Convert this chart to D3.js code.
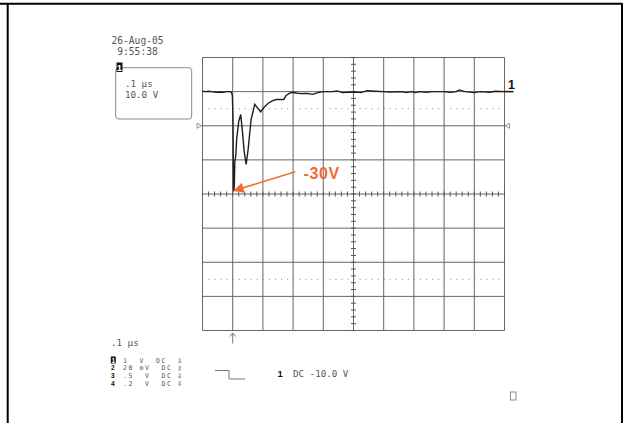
<!DOCTYPE html>
<html>
<head>
<meta charset="utf-8">
<script src="https://cdn.jsdelivr.net/npm/d3@7"></script>
<style>
  body { margin: 0; background: #fff; }
  .mono { font-family: "DejaVu Sans Mono", "Liberation Mono", monospace; fill: #555; }
  .chan { font-family: "Liberation Sans", Arial, sans-serif; font-weight: bold; fill: #111; }
</style>
</head>
<body>
<script>
const w = 623;
const h = 423;

// time in ns after trigger, channel 1 volts
const timeNs = [-100, -90, -80, -70, -60, -50, -40, -30, -20, -10, -4, -1, 1, 2.5, 4, 5.5, 7, 9, 10.5, 13,
  20, 26.5, 31.5, 38, 44.5, 51, 61, 73, 81, 92.5, 104, 117.5, 131, 144, 169, 177, 187, 197,
  210, 225, 245, 265, 282, 300, 330, 347, 363, 385, 405, 425, 445, 460, 500, 520, 560, 575,
  590, 605, 620, 640, 660, 700, 720, 740, 750, 770, 800, 820, 850, 870, 900];
const volts = [0.1, 0.0, 0.1, 0.0, -0.1, -0.2, -0.1, -0.2, 0.0, 0.0, -0.2, -1.2, -8, -28.8, -29.2, -27, -20.5, -19.5, -18.5, -14,
  -8.7, -6.7, -11, -17.5, -21.3, -17, -8.1, -3.7, -4.6, -5.9, -4.6, -3.4, -2.7, -2.3, -2.3, -1.1, -0.5, -0.2,
  -0.4, -0.6, -0.5, -0.8, -0.3, 0.0, 0.0, 0.2, -0.3, -0.2, -0.1, -0.3, 0.3, 0.2, 0.0, -0.1, 0.0, -0.3,
  0.0, -0.3, 0.0, -0.2, 0.0, 0.0, -0.2, 0.0, 0.5, 0.0, -0.3, 0.0, -0.2, 0.1, 0.0];

// graticule: 10 x 100 ns, 8 x 10 V
const timeDivs = [-100, 0, 100, 200, 300, 400, 500, 600, 700, 800, 900];
const voltDivs = [-70, -60, -50, -40, -30, -20, -10, 0, 10];
const dottedLevels = [-5, -55];
const centerTime = 400;
const centerVolt = -30;

// annotation
const peakLabel = "-30V";
const arrowFrom = [207, -23.5];
const arrowTo = [5, -29];

const legendRows = [
  {ch: "1", txt: "1  V  DC"},
  {ch: "2", txt: "20 mV  DC"},
  {ch: "3", txt: ".5  V  DC"},
  {ch: "4", txt: ".2  V  DC"}
];

const x = d3.scaleLinear().domain([-100, 900]).range([202.5, 504.5]);
const y = d3.scaleLinear().domain([-70, 10]).range([330.5, 57.5]);

const svg = d3.select("body").append("svg")
  .attr("width", w)
  .attr("height", h);

svg.append("defs").append("marker")
  .attr("id", "head")
  .attr("viewBox", "0 0 10 10")
  .attr("refX", 9).attr("refY", 5)
  .attr("markerWidth", 7.5).attr("markerHeight", 7)
  .attr("markerUnits", "strokeWidth")
  .attr("orient", "auto")
  .append("path")
  .attr("d", "M0,0 L10,5 L0,10 z")
  .attr("fill", "#f26a36");

// frame
svg.append("path")
  .attr("d", "M0,3.8 H622 M7.7,3 V423 M622,3 V423")
  .attr("stroke", "#000")
  .attr("stroke-width", 2)
  .attr("fill", "none");

// grid
const grid = svg.append("g").attr("stroke", "#666").attr("stroke-width", 1);
grid.selectAll(".vl").data(timeDivs).enter().append("line")
  .attr("x1", d => x(d)).attr("x2", d => x(d))
  .attr("y1", y(10)).attr("y2", y(-70));
grid.selectAll(".hl").data(voltDivs).enter().append("line")
  .attr("y1", d => y(d)).attr("y2", d => y(d))
  .attr("x1", x(-100)).attr("x2", x(900));

svg.selectAll(".dot").data(dottedLevels).enter().append("line")
  .attr("x1", x(-100) + 6).attr("x2", x(900) - 3)
  .attr("y1", d => y(d)).attr("y2", d => y(d))
  .attr("stroke", "#9a9a9a")
  .attr("stroke-dasharray", "1.2,4.84");

// minor ticks on center lines
const tMinor = d3.range(-100, 901, 20);
const vMinor = d3.range(-70, 11, 2);
svg.append("g").selectAll("line").data(tMinor).enter().append("line")
  .attr("x1", d => x(d)).attr("x2", d => x(d))
  .attr("y1", y(centerVolt) - 2.5).attr("y2", y(centerVolt) + 2.5)
  .attr("stroke", "#555");
svg.append("g").selectAll("line").data(vMinor).enter().append("line")
  .attr("y1", d => y(d)).attr("y2", d => y(d))
  .attr("x1", x(centerTime) - 2.5).attr("x2", x(centerTime) + 2.5)
  .attr("stroke", "#555");

// trace
const pts = timeNs.map((t, i) => [t, volts[i]]);
svg.append("path")
  .datum(pts)
  .attr("d", d3.line().x(d => x(d[0])).y(d => y(d[1])))
  .attr("fill", "none")
  .attr("stroke", "#1e1e1e")
  .attr("stroke-width", 1.4);

// channel 1 ground marker
svg.append("line")
  .attr("x1", x(900)).attr("x2", x(900) + 9)
  .attr("y1", y(0)).attr("y2", y(0))
  .attr("stroke", "#111").attr("stroke-width", 1.5);
svg.append("text").attr("class", "chan")
  .attr("x", x(900) + 3.5).attr("y", y(0) - 2.5)
  .attr("font-size", 12.5)
  .text("1");

// offset markers
const yo = y(-10);
svg.append("path")
  .attr("d", `M197,${yo - 2.5} L201.5,${yo} L197,${yo + 2.5} Z M509.5,${yo - 2.5} L505,${yo} L509.5,${yo + 2.5} Z`)
  .attr("fill", "#fff").attr("stroke", "#777").attr("stroke-width", 0.8);

// trigger marker
const xt = x(0);
svg.append("path")
  .attr("d", `M${xt},333 V343.5 M${xt - 3},336.5 L${xt},333 L${xt + 3},336.5`)
  .attr("fill", "none").attr("stroke", "#777").attr("stroke-width", 1);

// annotation arrow
svg.append("line")
  .attr("x1", x(arrowFrom[0])).attr("y1", y(arrowFrom[1]))
  .attr("x2", x(arrowTo[0])).attr("y2", y(arrowTo[1]))
  .attr("stroke", "#f26a36").attr("stroke-width", 1.5)
  .attr("marker-end", "url(#head)");
svg.append("text")
  .attr("x", 303.5).attr("y", 178.5)
  .attr("font-family", "Liberation Sans, Arial, sans-serif")
  .attr("font-weight", "bold")
  .attr("font-size", 16)
  .attr("letter-spacing", 0.6)
  .attr("fill", "#f26a36")
  .text(peakLabel);

// header
svg.append("text").attr("class", "mono").attr("font-size", 9.6)
  .attr("x", 111.5).attr("y", 43.5).text("26-Aug-05");
svg.append("text").attr("class", "mono").attr("font-size", 9.6)
  .attr("x", 111.5).attr("y", 54.5).attr("xml:space", "preserve").text(" 9:55:38");

// settings box
svg.append("rect")
  .attr("x", 115.7).attr("y", 67.7).attr("width", 76).attr("height", 51.3)
  .attr("rx", 3).attr("fill", "none").attr("stroke", "#888");
svg.append("rect").attr("x", 116.5).attr("y", 62.5).attr("width", 6).attr("height", 9.5).attr("fill", "#111");
svg.append("text").attr("class", "chan").attr("font-size", 9.5)
  .attr("x", 119.5).attr("y", 71).attr("text-anchor", "middle").style("fill", "#fff").text("1");
svg.append("text").attr("class", "mono").attr("font-size", 9.2)
  .attr("x", 125).attr("y", 86.5).text(".1 µs");
svg.append("text").attr("class", "mono").attr("font-size", 9.2)
  .attr("x", 125).attr("y", 97.5).text("10.0 V");

// bottom legend
svg.append("text").attr("class", "mono").attr("font-size", 9.2)
  .attr("x", 111).attr("y", 346).text(".1 µs");

// channel rows, kept small so the tight row pitch does not collide
const rowY = [362.8, 370.4, 378.0, 385.6];
svg.append("rect").attr("x", 110.8).attr("y", rowY[0] - 6.3).attr("width", 5).attr("height", 7).attr("fill", "#111");
legendRows.forEach((r, i) => {
  svg.append("text").attr("class", "chan")
    .attr("x", i === 0 ? 113.3 : 111).attr("y", rowY[i])
    .attr("text-anchor", i === 0 ? "middle" : "start")
    .attr("font-size", 6.6)
    .style("fill", i === 0 ? "#fff" : "#111")
    .text(r.ch);
  svg.append("text").attr("class", "mono").attr("font-size", 6.5)
    .attr("letter-spacing", 1.6)
    .attr("xml:space", "preserve")
    .attr("x", 123).attr("y", rowY[i])
    .text(r.txt);
  svg.append("text").attr("class", "mono").attr("font-size", 3.6)
    .attr("transform", `translate(180.5,${rowY[i]}) rotate(-90)`).text("BW");
});

// coupling symbol + ch1 offset
svg.append("path")
  .attr("d", "M215,370.5 H229 V379 H245")
  .attr("fill", "none").attr("stroke", "#777").attr("stroke-width", 1);
svg.append("text").attr("class", "chan").attr("font-size", 9.5)
  .attr("x", 277.5).attr("y", 377).text("1");
svg.append("text").attr("class", "mono").attr("font-size", 9.2)
  .attr("x", 293).attr("y", 377).text("DC -10.0 V");

// status box
svg.append("rect")
  .attr("x", 510.5).attr("y", 392).attr("width", 5.5).attr("height", 8)
  .attr("fill", "none").attr("stroke", "#888");
</script>
</body>
</html>
